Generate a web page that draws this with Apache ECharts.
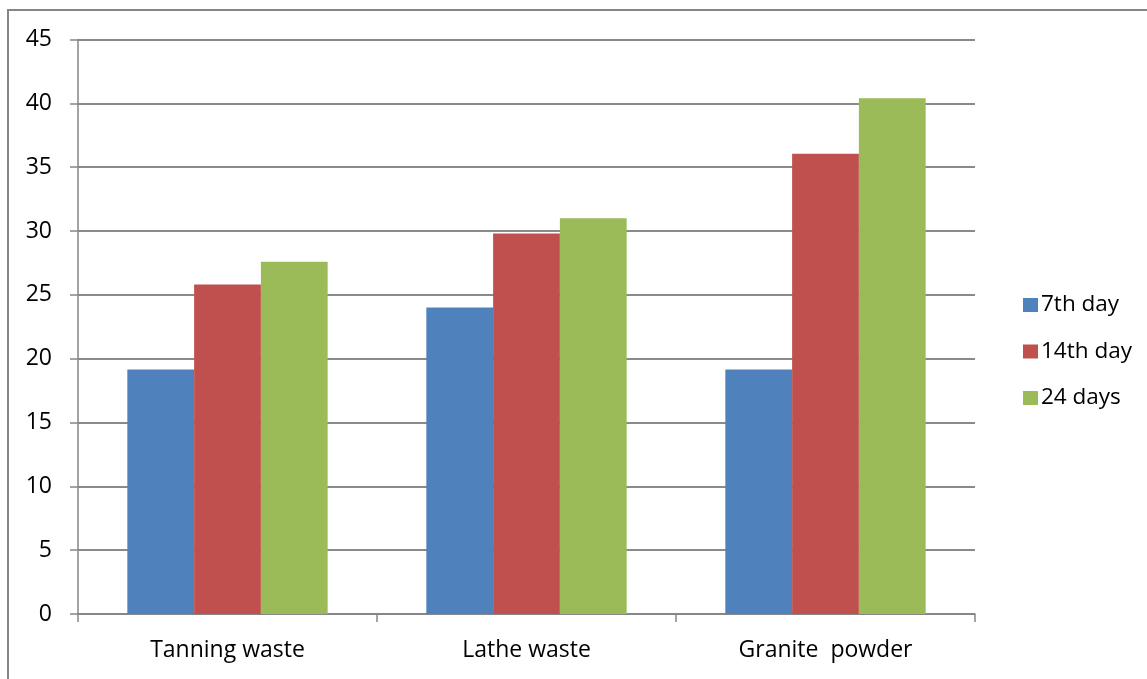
<!DOCTYPE html>
<html>
<head>
<meta charset="utf-8">
<script src="https://cdn.jsdelivr.net/npm/echarts@6/dist/echarts.min.js"></script>
<style>
  html, body { margin: 0; padding: 0; background: #ffffff; }
  #chart { width: 1147px; height: 679px; }
</style>
</head>
<body>
<div id="chart"></div>
<script>
// Materials on the category axis
const categories = ['Tanning waste', 'Lathe waste', 'Granite  powder'];

// Values per curing age
const day7 = [19.15, 24.0, 19.15];
const day14 = [25.8, 29.8, 36.05];
const days24 = [27.6, 31.0, 40.4];

const seriesNames = ['7th day', '14th day', '24 days'];
const seriesColors = ['#4F81BD', '#C0504D', '#9BBB59'];

const FONT = '"Open Sans", "Noto Sans", sans-serif';
const AXIS_GRAY = '#868686';

const chart = echarts.init(document.getElementById('chart'), null, { renderer: 'canvas' });

const option = {
  backgroundColor: '#ffffff',
  animation: false,
  textStyle: { fontFamily: FONT, color: '#000000' },
  grid: { left: 78, right: 172, top: 39.5, bottom: 65, containLabel: false },
  legend: {
    orient: 'vertical',
    left: 1018,
    top: 288.5,
    itemWidth: 15,
    itemHeight: 14,
    itemGap: 23.5,
    icon: 'rect',
    textStyle: { fontFamily: FONT, fontSize: 22.5, color: '#000000', padding: [0, 0, 0, -2] },
    data: seriesNames
  },
  xAxis: {
    type: 'category',
    data: categories,
    axisLine: { lineStyle: { color: AXIS_GRAY, width: 1.5 } },
    axisTick: { show: true, length: 8, lineStyle: { color: AXIS_GRAY, width: 1.5 } },
    axisLabel: { fontFamily: FONT, fontSize: 23, color: '#000000', margin: 25 }
  },
  yAxis: {
    type: 'value',
    min: 0,
    max: 45,
    interval: 5,
    axisLine: { show: true, lineStyle: { color: AXIS_GRAY, width: 1.5 } },
    axisTick: { show: true, length: 8, lineStyle: { color: AXIS_GRAY, width: 1.5 } },
    axisLabel: { fontFamily: FONT, fontSize: 23, color: '#000000', margin: 26 },
    splitLine: { show: true, lineStyle: { color: '#8a8a8a', width: 2 } }
  },
  series: [
    { name: seriesNames[0], type: 'bar', data: day7, itemStyle: { color: seriesColors[0] }, barGap: '0%', barCategoryGap: '33%' },
    { name: seriesNames[1], type: 'bar', data: day14, itemStyle: { color: seriesColors[1] }, barGap: '0%', barCategoryGap: '33%' },
    { name: seriesNames[2], type: 'bar', data: days24, itemStyle: { color: seriesColors[2] }, barGap: '0%', barCategoryGap: '33%' }
  ],
  graphic: [
    {
      // outer chart-area border
      type: 'rect',
      silent: true,
      z: 100,
      shape: { x: 8, y: 10, width: 1400, height: 1000 },
      style: { fill: null, stroke: '#868686', lineWidth: 2 }
    }
  ]
};

chart.setOption(option);
</script>
</body>
</html>
